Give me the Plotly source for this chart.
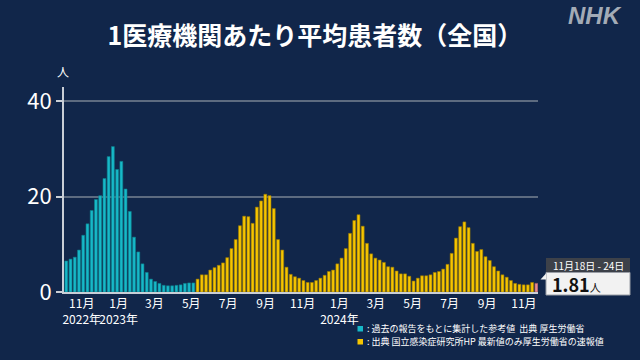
import pandas as pd
import plotly.graph_objects as go

# ---------------- data ----------------
first_week_start = "2022-10-03"   # Monday of the first weekly bar
ref_values = [6.5, 6.9, 7.3, 8.8, 11.9, 14.3, 17.1, 19.4, 20.2, 23.8, 28.4, 30.5, 25.7, 27.4,
              21.6, 16.9, 11.5, 8.4, 5.9, 4.1, 2.7, 2.2, 1.8, 1.4, 1.3, 1.3, 1.4, 1.5, 1.8, 1.9, 1.9]
survey_values = [2.7, 3.6, 3.6, 4.6, 5.1, 5.6, 6.1, 7.2, 9.1, 11.0, 13.9, 15.9, 15.8, 14.4,
                 17.8, 19.1, 20.5, 20.2, 17.5, 11.0, 8.8, 5.2, 3.7, 3.2, 2.9, 2.4, 2.0, 2.0,
                 2.4, 2.9, 3.5, 4.3, 4.6, 5.9, 7.1, 9.1, 12.3, 15.0, 16.2, 13.8, 10.2, 8.0,
                 7.1, 6.7, 6.2, 5.3, 5.2, 4.4, 3.8, 3.8, 3.3, 2.3, 2.9, 3.4, 3.4, 3.6, 4.1,
                 4.3, 4.8, 5.8, 8.1, 11.3, 13.7, 14.7, 13.5, 10.2, 8.5, 8.9, 7.4, 6.6, 5.3,
                 4.4, 3.6, 3.1, 2.4, 1.8, 1.6, 1.5, 1.5, 2.0]
latest_value = 1.81
latest_label = "11月18日 - 24日"
latest_unit = "人"

tick_dates = ["2022-11-01", "2023-01-01", "2023-03-01", "2023-05-01", "2023-07-01",
              "2023-09-01", "2023-11-01", "2024-01-01", "2024-03-01", "2024-05-01",
              "2024-07-01", "2024-09-01", "2024-11-01"]
tick_labels = ["11月<br>2022年", "1月<br>2023年", "3月", "5月", "7月", "9月", "11月",
               "1月<br>2024年", "3月", "5月", "7月", "9月", "11月"]
y_ticks = [0, 20, 40]

title_text = "1医療機関あたり平均患者数（全国）"
legend_ref = ": 過去の報告をもとに集計した参考値\u00a0\u00a0出典 厚生労働省"
legend_survey = ": 出典 国立感染症研究所HP 最新値のみ厚生労働省の速報値"

# ---------------- styling ----------------
BG = "#11264a"
CYAN = "#17b8c8"
YELLOW = "#f6c500"
PINK = "#e98a90"
FONT = "Noto Sans CJK JP"

n_all = len(ref_values) + len(survey_values) + 1
centers = pd.date_range(first_week_start, periods=n_all, freq="7D") + pd.Timedelta(hours=84)
x_ref = centers[:len(ref_values)]
x_survey = centers[len(ref_values):len(ref_values) + len(survey_values)]
x_latest = centers[-1:]
bar_w = 0.68 * 7 * 86400000

# plot area in pixels
L, R, T, B = 64, 538, 87, 292
def px(x):
    return (x - L) / (R - L)
def py(y):
    return (B - y) / (B - T)

fig = go.Figure()
fig.add_trace(go.Bar(x=x_ref, y=ref_values, width=bar_w, marker_color=CYAN,
                     marker_line=dict(color="#0d7f8c", width=0.6), hoverinfo="skip"))
fig.add_trace(go.Bar(x=x_survey, y=survey_values, width=bar_w, marker_color=YELLOW,
                     marker_line=dict(color="#9c7a00", width=0.6), hoverinfo="skip"))
fig.add_trace(go.Bar(x=x_latest, y=[latest_value], width=bar_w, marker_color=PINK,
                     marker_line=dict(color="#a05a60", width=0.6), hoverinfo="skip"))

fig.update_layout(
    width=640, height=360,
    margin=dict(l=L, r=640 - R, t=T, b=360 - B, autoexpand=False),
    paper_bgcolor=BG, plot_bgcolor=BG,
    showlegend=False,
    font=dict(family=FONT, color="white"),
    title=dict(text="<b>" + title_text + "</b>", x=315 / 640, xref="container", xanchor="center",
               y=1 - 36 / 360, yref="container", yanchor="middle",
               font=dict(size=25, color="white", family=FONT)),
    xaxis=dict(type="date", range=["2022-10-02 17:00", "2024-11-24 05:00"],
               tickvals=tick_dates, ticktext=tick_labels, showgrid=False, tickangle=0,
               automargin=False,
               showline=True, linecolor="#c9ced6", linewidth=2, ticks="",
               tickfont=dict(size=12, color="white", family=FONT), zeroline=False),
    yaxis=dict(range=[0, 43], tickvals=y_ticks, showgrid=True, gridcolor="#5d6b80",
               gridwidth=1.5, showline=True, linecolor="#c9ced6", linewidth=2,
               automargin=False,
               ticks="outside", ticklen=6, tickcolor="#c9ced6", tickwidth=2,
               tickfont=dict(size=22, color="white", family=FONT), zeroline=False),
)

annotations = [
    dict(text="人", x=px(63), y=py(72), xref="paper", yref="paper", showarrow=False,
         xanchor="center", yanchor="middle", font=dict(size=12, color="white", family=FONT)),
    dict(text="<b><i>NHK</i></b>", x=px(595), y=py(16), xref="paper", yref="paper",
         showarrow=False, xanchor="center", yanchor="middle",
         font=dict(size=24, color="#a3abb6", family="Liberation Sans")),
    dict(text=legend_ref, x=px(365), y=py(328.5), xref="paper", yref="paper", showarrow=False,
         xanchor="left", yanchor="middle", font=dict(size=9, color="white", family=FONT)),
    dict(text=legend_survey, x=px(365), y=py(341.5), xref="paper", yref="paper", showarrow=False,
         xanchor="left", yanchor="middle", font=dict(size=9, color="white", family=FONT)),
    dict(text=latest_label, x=px(588), y=py(265), xref="paper", yref="paper", showarrow=False,
         xanchor="center", yanchor="middle", font=dict(size=10, color="white", family=FONT)),
    dict(text="<b>%.2f</b><span style='font-size:11px'>%s</span>" % (latest_value, latest_unit),
         x=px(550), y=py(284), xref="paper", yref="paper", showarrow=False,
         xanchor="left", yanchor="middle", font=dict(size=18, color="#111111", family=FONT)),
]
fig.update_layout(annotations=annotations)

shapes = [
    dict(type="rect", xref="paper", yref="paper", x0=px(357.5), x1=px(363), y0=py(331.5), y1=py(326),
         fillcolor=CYAN, line=dict(width=0)),
    dict(type="rect", xref="paper", yref="paper", x0=px(357.5), x1=px(363), y0=py(344.5), y1=py(339),
         fillcolor=YELLOW, line=dict(width=0)),
    dict(type="rect", xref="paper", yref="paper", x0=px(546), x1=px(630), y0=py(272), y1=py(258),
         fillcolor="#3d4149", line=dict(width=0)),
    dict(type="rect", xref="paper", yref="paper", x0=px(546), x1=px(630), y0=py(295), y1=py(272.5),
         fillcolor="#f2f2f2", line=dict(color="#9a9ea6", width=1)),
    dict(type="path", xref="paper", yref="paper",
         path="M %f,%f L %f,%f L %f,%f Z" % (px(540.5), py(279.5), px(546), py(273.5), px(546), py(279.5)),
         fillcolor="#f2f2f2", line=dict(width=0)),
]
fig.update_layout(shapes=shapes)

fig.write_html("out.html", config={"displayModeBar": False},
               post_script="document.body.style.margin='0';document.body.style.background='%s';" % BG)
